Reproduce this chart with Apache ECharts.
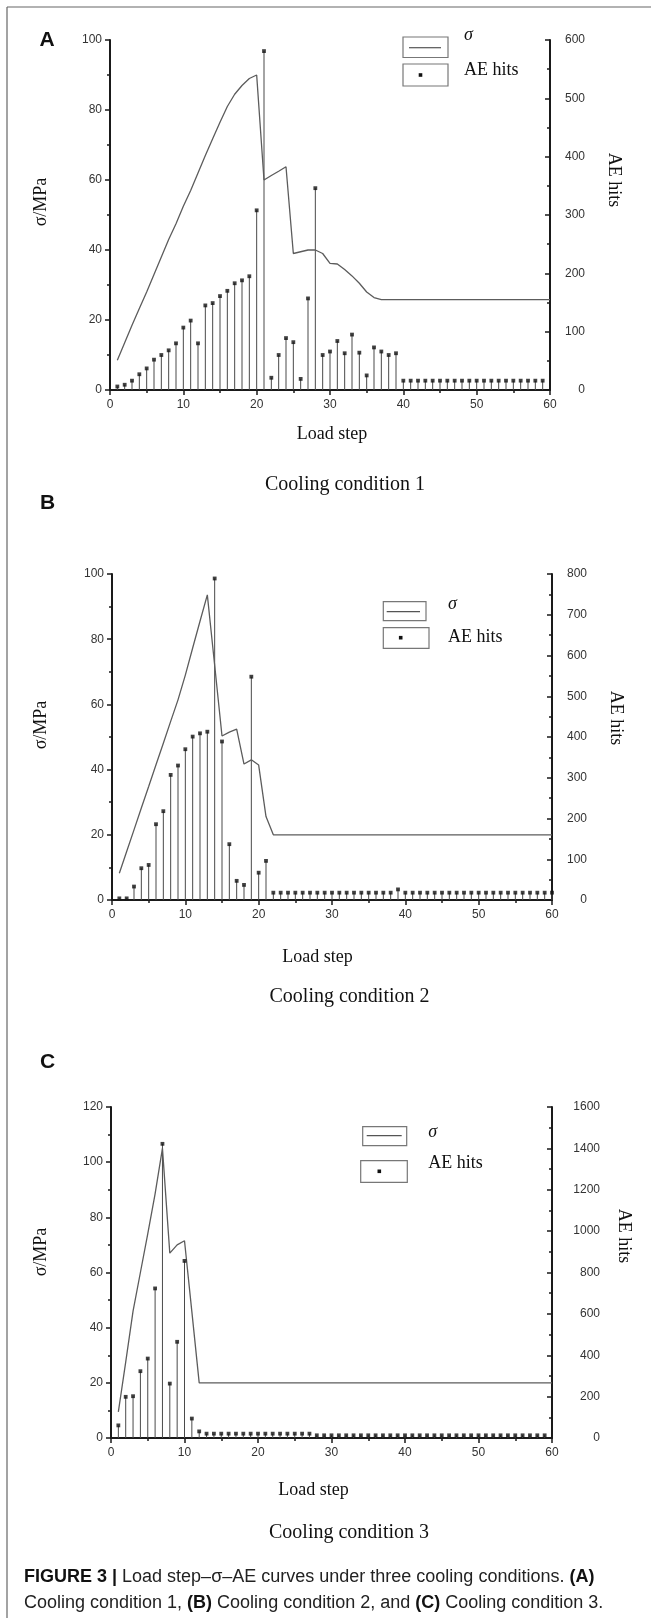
<!DOCTYPE html>
<html>
<head>
<meta charset="utf-8">
<script src="https://cdn.jsdelivr.net/npm/echarts@6/dist/echarts.min.js"></script>
<style>
  html, body { margin: 0; padding: 0; background: #fff; }
  #chart { width: 651px; height: 1618px; }
</style>
</head>
<body>
<div id="chart"></div>
<script>
// load steps (x axis)
const steps = [
  1, 2, 3, 4, 5, 6, 7, 8, 9, 10,
  11, 12, 13, 14, 15, 16, 17, 18, 19, 20,
  21, 22, 23, 24, 25, 26, 27, 28, 29, 30,
  31, 32, 33, 34, 35, 36, 37, 38, 39, 40,
  41, 42, 43, 44, 45, 46, 47, 48, 49, 50,
  51, 52, 53, 54, 55, 56, 57, 58, 59, 60
];

// cooling condition 1
const sigmaA = [
  8.5, 13.5, 18.5, 23.3, 28, 33, 38, 43, 47.5, 52.5,
  57, 62, 67, 71.8, 76.5, 81, 84.5, 87, 89, 90,
  60, 61.3, 62.5, 63.8, 39, 39.5, 40, 40, 39, 36.2,
  36, 34.4, 32.6, 30.5, 28, 26.4, 25.8, 25.8, 25.8, 25.8,
  25.8, 25.8, 25.8, 25.8, 25.8, 25.8, 25.8, 25.8, 25.8, 25.8,
  25.8, 25.8, 25.8, 25.8, 25.8, 25.8, 25.8, 25.8, 25.8, 25.8
];
const hitsA = [
  6, 9, 16, 27, 37, 52, 60, 68, 80, 107,
  119, 80, 145, 149, 161, 170, 183, 188, 195, 308,
  581, 21, 60, 89, 82, 19, 157, 346, 60, 66,
  84, 63, 95, 64, 25, 73, 66, 60, 63, 16,
  16, 16, 16, 16, 16, 16, 16, 16, 16, 16,
  16, 16, 16, 16, 16, 16, 16, 16, 16
];

// cooling condition 2
const sigmaB = [
  8.2, 14.9, 21.5, 28.2, 34.8, 41.5, 48.1, 54.8, 61.4, 69,
  77.3, 85.5, 93.6, 72, 50.3, 51.5, 52.4, 41.7, 43, 41.4,
  25.6, 20, 20, 20, 20, 20, 20, 20, 20, 20,
  20, 20, 20, 20, 20, 20, 20, 20, 20, 20,
  20, 20, 20, 20, 20, 20, 20, 20, 20, 20,
  20, 20, 20, 20, 20, 20, 20, 20, 20, 20
];
const hitsB = [
  4, 4, 33, 78, 86, 186, 218, 307, 330, 370,
  401, 409, 413, 789, 389, 137, 47, 37, 548, 67,
  96, 18, 18, 18, 18, 18, 18, 18, 18, 18,
  18, 18, 18, 18, 18, 18, 18, 18, 26, 18,
  18, 18, 18, 18, 18, 18, 18, 18, 18, 18,
  18, 18, 18, 18, 18, 18, 18, 18, 18, 18
];

// cooling condition 3
const sigmaC = [
  9.5, 27.5, 46, 60, 74, 88.5, 105, 67, 70, 71.5,
  45.8, 20, 20, 20, 20, 20, 20, 20, 20, 20,
  20, 20, 20, 20, 20, 20, 20, 20, 20, 20,
  20, 20, 20, 20, 20, 20, 20, 20, 20, 20,
  20, 20, 20, 20, 20, 20, 20, 20, 20, 20,
  20, 20, 20, 20, 20, 20, 20, 20, 20, 20
];
const hitsC = [
  61, 199, 202, 323, 384, 723, 1422, 263, 465, 856,
  94, 32, 21, 21, 21, 21, 21, 21, 21, 21,
  21, 21, 21, 21, 21, 21, 21, 13, 13, 13,
  13, 13, 13, 13, 13, 13, 13, 13, 13, 13,
  13, 13, 13, 13, 13, 13, 13, 13, 13, 13,
  13, 13, 13, 13, 13, 13, 13, 13, 13
];

const SANS = "'Liberation Sans', Arial, sans-serif";
const SERIF = "'Liberation Serif', 'Times New Roman', serif";

const panels = [
  { grid: { left: 110, top: 40, width: 440, height: 350 }, sMax: 100, hMax: 600, hInt: 100, hMargin: 35, sigma: sigmaA, hits: hitsA },
  { grid: { left: 112, top: 574, width: 440, height: 326 }, sMax: 100, hMax: 800, hInt: 100, hMargin: 35, sigma: sigmaB, hits: hitsB },
  { grid: { left: 111, top: 1107, width: 441, height: 331 }, sMax: 120, hMax: 1600, hInt: 200, hMargin: 48, sigma: sigmaC, hits: hitsC }
];

function pairs(arr) {
  return arr.map((v, k) => [steps[k], v]);
}

const axisLine = { show: true, onZero: false, lineStyle: { color: '#1a1a1a', width: 2 } };
const tickStyle = { color: '#1a1a1a', width: 1.5 };
const labelBase = { color: '#333', fontSize: 12, fontFamily: SANS, formatter: v => String(v) };

const grids = [], xAxes = [], yAxes = [], series = [];
panels.forEach((p, i) => {
  grids.push(p.grid);
  xAxes.push({
    gridIndex: i, type: 'value', min: 0, max: 60, interval: 10,
    axisLine: axisLine,
    axisTick: { show: true, length: 5, lineStyle: tickStyle },
    minorTick: { show: true, splitNumber: 2, length: 3, lineStyle: tickStyle },
    splitLine: { show: false },
    axisLabel: Object.assign({ margin: 9 }, labelBase)
  });
  yAxes.push({
    gridIndex: i, type: 'value', position: 'left', min: 0, max: p.sMax, interval: 20,
    axisLine: axisLine,
    axisTick: { show: true, length: 5, lineStyle: tickStyle },
    minorTick: { show: true, splitNumber: 2, length: 3, lineStyle: tickStyle },
    splitLine: { show: false },
    axisLabel: Object.assign({ margin: 8 }, labelBase)
  });
  yAxes.push({
    gridIndex: i, type: 'value', position: 'right', min: 0, max: p.hMax, interval: p.hInt,
    axisLine: axisLine,
    axisTick: { show: true, inside: true, length: 5, lineStyle: tickStyle },
    minorTick: { show: true, splitNumber: 2, length: 3, lineStyle: tickStyle },
    splitLine: { show: false },
    axisLabel: Object.assign({ margin: p.hMargin, align: 'right' }, labelBase)
  });
  series.push({
    type: 'bar', xAxisIndex: i, yAxisIndex: 2 * i + 1, barWidth: 1,
    data: pairs(p.hits), itemStyle: { color: '#4a4a4a' }, z: 2
  });
  series.push({
    type: 'line', xAxisIndex: i, yAxisIndex: 2 * i, data: pairs(p.sigma),
    showSymbol: false, symbol: 'none',
    lineStyle: { color: '#5c5c5c', width: 1.3 }, z: 3
  });
  series.push({
    type: 'scatter', xAxisIndex: i, yAxisIndex: 2 * i + 1, data: pairs(p.hits),
    symbol: 'rect', symbolSize: 3.8, itemStyle: { color: '#111' }, z: 4
  });
});

function text(x, y, str, size, family, extra) {
  return Object.assign({
    type: 'text', x: x, y: y,
    style: Object.assign({
      text: str, fontSize: size, fontFamily: family, fill: '#111',
      align: 'center', verticalAlign: 'middle'
    }, extra && extra.style)
  }, extra && extra.el);
}

function legend(b1, b2, line, dot, sy, ty, tx) {
  return [
    { type: 'rect', shape: b1, style: { fill: 'none', stroke: '#777', lineWidth: 1.2 } },
    { type: 'rect', shape: b2, style: { fill: 'none', stroke: '#777', lineWidth: 1.2 } },
    { type: 'line', shape: line, style: { stroke: '#555', lineWidth: 1.2 } },
    { type: 'rect', shape: { x: dot[0] - 1.8, y: dot[1] - 1.8, width: 3.6, height: 3.6 }, style: { fill: '#111' } },
    text(tx, sy, 'σ', 18, SERIF, { style: { align: 'left', fontStyle: 'italic' } }),
    text(tx, ty, 'AE hits', 18, SERIF, { style: { align: 'left' } })
  ];
}

const up = { el: { rotation: Math.PI / 2 } };
const down = { el: { rotation: -Math.PI / 2 } };

const graphic = [
  // frame
  { type: 'line', shape: { x1: 7, y1: 7, x2: 651, y2: 7 }, style: { stroke: '#666', lineWidth: 1.2 } },
  { type: 'line', shape: { x1: 7, y1: 7, x2: 7, y2: 1618 }, style: { stroke: '#666', lineWidth: 1.2 } },

  // panel A
  text(47, 40, 'A', 21, SANS, { style: { fontWeight: 'bold' } }),
  text(41.5, 202, 'σ/MPa', 18, SERIF, up),
  text(614, 180, 'AE hits', 18, SERIF, down),
  text(332, 434, 'Load step', 18, SERIF),
  text(345, 485, 'Cooling condition 1', 20, SERIF),
  ...legend({ x: 403, y: 37, width: 45, height: 20.5 }, { x: 403, y: 64, width: 45, height: 22 },
    { x1: 409, y1: 47.7, x2: 441, y2: 47.7 }, [420.5, 75], 35.5, 70, 464),

  // panel B
  text(47.7, 503, 'B', 21, SANS, { style: { fontWeight: 'bold' } }),
  text(41.5, 725, 'σ/MPa', 18, SERIF, up),
  text(616, 718, 'AE hits', 18, SERIF, down),
  text(317.5, 957, 'Load step', 18, SERIF),
  text(349.5, 997, 'Cooling condition 2', 20, SERIF),
  ...legend({ x: 383.3, y: 601.7, width: 42.7, height: 19 }, { x: 383.3, y: 627.7, width: 45.7, height: 20.6 },
    { x1: 386.7, y1: 611.7, x2: 420, y2: 611.7 }, [400.7, 637.7], 604.5, 637.3, 448),

  // panel C
  text(47.7, 1062, 'C', 21, SANS, { style: { fontWeight: 'bold' } }),
  text(41.5, 1252, 'σ/MPa', 18, SERIF, up),
  text(624, 1236, 'AE hits', 18, SERIF, down),
  text(313.4, 1490, 'Load step', 18, SERIF),
  text(349, 1533, 'Cooling condition 3', 20, SERIF),
  ...legend({ x: 362.7, y: 1126.7, width: 44, height: 19 }, { x: 360.7, y: 1160.7, width: 46.6, height: 21.6 },
    { x1: 366.7, y1: 1135.7, x2: 401.7, y2: 1135.7 }, [379.3, 1171.3], 1132, 1163.3, 428.3),

  // caption
  {
    type: 'text', x: 24, y: 1577,
    style: {
      text: '{b|FIGURE 3 |} Load step–σ–AE curves under three cooling conditions. {b|(A)}',
      rich: { b: { fontWeight: 'bold', fontSize: 18, fontFamily: SANS, fill: '#111' } },
      fontSize: 18, fontFamily: SANS, fill: '#222', align: 'left', verticalAlign: 'middle'
    }
  },
  {
    type: 'text', x: 24, y: 1603,
    style: {
      text: 'Cooling condition 1, {b|(B)} Cooling condition 2, and {b|(C)} Cooling condition 3.',
      rich: { b: { fontWeight: 'bold', fontSize: 18, fontFamily: SANS, fill: '#111' } },
      fontSize: 18, fontFamily: SANS, fill: '#222', align: 'left', verticalAlign: 'middle'
    }
  }
];

const chart = echarts.init(document.getElementById('chart'), null, { renderer: 'canvas' });
chart.setOption({
  backgroundColor: '#fff',
  animation: false,
  grid: grids,
  xAxis: xAxes,
  yAxis: yAxes,
  series: series,
  graphic: graphic
});
</script>
</body>
</html>
